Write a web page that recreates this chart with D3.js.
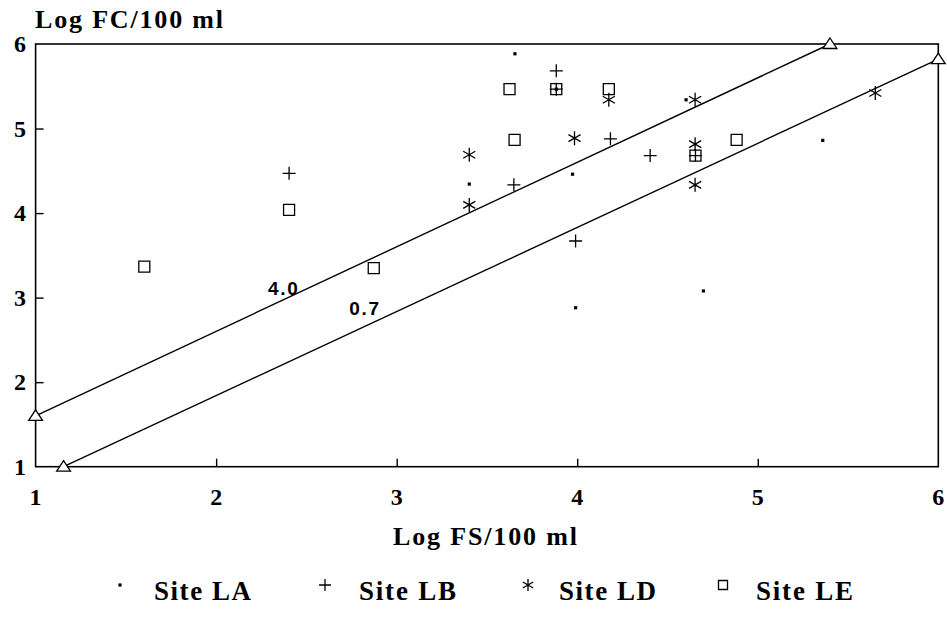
<!DOCTYPE html>
<html><head><meta charset="utf-8">
<script src="https://cdn.jsdelivr.net/npm/d3@7"></script>
<style>body{margin:0;background:#fff}svg{display:block}</style>
</head><body><svg id="c" width="947" height="622"></svg>
<script>
// Data
const xTicks = [1, 2, 3, 4, 5, 6];
const yTicks = [1, 2, 3, 4, 5, 6];
const laX = [3.655, 3.402, 3.974, 3.991, 4.603, 5.36, 4.699, 3.884];
const laY = [5.884, 4.343, 4.46, 2.88, 5.34, 4.86, 3.079, 5.466];
const lbX = [2.404, 3.884, 4.184, 3.649, 4.404, 3.991, 3.884, 4.655];
const lbY = [4.47, 5.683, 4.878, 4.334, 4.68, 3.67, 5.466, 4.68];
const ldX = [4.175, 3.985, 3.402, 3.402, 4.653, 4.653, 4.653, 5.651];
const ldY = [5.34, 4.886, 4.69, 4.097, 5.34, 4.815, 4.334, 5.42];
const leX = [1.602, 2.404, 2.873, 3.625, 3.884, 4.175, 3.653, 4.655, 4.883];
const leY = [3.367, 4.038, 3.348, 5.466, 5.466, 5.466, 4.866, 4.68, 4.866];
const ratioLabels = ["4.0", "0.7"];
const ratioLineX = [[1.0, 5.4], [1.155, 6.0]];
const ratioLineY = [[1.602, 6.0], [1.0, 5.82]];
const ratioLabelX = [2.37, 2.82];
const ratioLabelY = [3.03, 2.795];
const siteNames = ["Site LA", "Site LB", "Site LD", "Site LE"];
const siteSymbols = ["dot", "plus", "star", "square"];

const svg = d3.select("#c");
const x = d3.scaleLinear().domain([1, 6]).range([35.6, 938.3]);
const y = d3.scaleLinear().domain([1, 6]).range([466.7, 44]);
const serif = "'Liberation Serif','Times New Roman',serif";

function symPath(type, s) {
  const p = d3.path();
  if (type === "dot") { p.rect(-1.6, -1.6, 3.2, 3.2); }
  else if (type === "plus") { p.moveTo(-s, 0); p.lineTo(s, 0); p.moveTo(0, -s); p.lineTo(0, s); }
  else if (type === "star") {
    p.moveTo(0, -s); p.lineTo(0, s);
    const a = s * Math.cos(Math.PI / 6), b = s * Math.sin(Math.PI / 6);
    p.moveTo(-a, -b); p.lineTo(a, b); p.moveTo(-a, b); p.lineTo(a, -b);
  }
  else if (type === "square") { p.rect(-s, -s, 2 * s, 2 * s); }
  else if (type === "tri") { p.moveTo(0, -s); p.lineTo(s * 1.15, s * 0.75); p.lineTo(-s * 1.15, s * 0.75); p.closePath(); }
  return p.toString();
}
function drawSym(g, type, px, py, s) {
  const el = g.append("path").attr("d", symPath(type, s))
    .attr("transform", `translate(${px},${py})`);
  if (type === "dot") el.attr("fill", "#000").attr("stroke", "none");
  else el.attr("fill", type === "tri" ? "#fff" : "none").attr("stroke", "#000").attr("stroke-width", 1.3);
  return el;
}

// frame
const fr = svg.append("g").attr("stroke", "#000").attr("fill", "none");
fr.append("rect").attr("x", x(1)).attr("y", y(6)).attr("width", x(6) - x(1)).attr("height", y(1) - y(6)).attr("stroke-width", 1.6);

// axes with inward ticks
const xAxis = d3.axisBottom(x).tickValues(xTicks.slice(1, -1)).tickSize(-8).tickFormat("");
const gx = svg.append("g").attr("transform", `translate(0,${y(1)})`).call(xAxis);
gx.select(".domain").remove();
gx.selectAll("line").attr("stroke", "#000").attr("stroke-width", 1.4);
const yAxis = d3.axisLeft(y).tickValues(yTicks.slice(1, -1)).tickSize(-8).tickFormat("");
const gy = svg.append("g").attr("transform", `translate(${x(1)},0)`).call(yAxis);
gy.select(".domain").remove();
gy.selectAll("line").attr("stroke", "#000").attr("stroke-width", 1.4);

// tick labels
svg.append("g").selectAll("text").data(xTicks).join("text")
  .attr("x", d => x(d)).attr("y", 505).attr("text-anchor", "middle")
  .attr("font-family", serif).attr("font-weight", "bold").attr("font-size", 24)
  .text(d => d);
svg.append("g").selectAll("text").data(yTicks).join("text")
  .attr("x", 26).attr("y", d => y(d) + 8).attr("text-anchor", "end")
  .attr("font-family", serif).attr("font-weight", "bold").attr("font-size", 24)
  .text(d => d);

// titles
svg.append("text").attr("x", 35).attr("y", 28).attr("font-family", serif).attr("font-weight", "bold")
  .attr("font-size", 26).attr("textLength", 188).attr("lengthAdjust", "spacing").text("Log FC/100 ml");
svg.append("text").attr("x", 393).attr("y", 545).attr("font-family", serif).attr("font-weight", "bold")
  .attr("font-size", 26).attr("textLength", 184).attr("lengthAdjust", "spacing").text("Log FS/100 ml");

// ratio lines
const lg = svg.append("g");
ratioLabels.forEach((lab, i) => {
  lg.append("line").attr("x1", x(ratioLineX[i][0])).attr("y1", y(ratioLineY[i][0]))
    .attr("x2", x(ratioLineX[i][1])).attr("y2", y(ratioLineY[i][1]))
    .attr("stroke", "#000").attr("stroke-width", 1.4);
  drawSym(lg, "tri", x(ratioLineX[i][0]), y(ratioLineY[i][0]), 6);
  drawSym(lg, "tri", x(ratioLineX[i][1]), y(ratioLineY[i][1]), 6);
  lg.append("text").attr("x", x(ratioLabelX[i])).attr("y", y(ratioLabelY[i]))
    .attr("text-anchor", "middle").attr("font-family", "'Liberation Sans',Arial,sans-serif")
    .attr("font-weight", "bold").attr("font-size", 19).attr("textLength", 30).attr("lengthAdjust", "spacing").text(lab);
});

// points
const pg = svg.append("g");
const sets = [[laX, laY, "dot", 0], [lbX, lbY, "plus", 6.5], [ldX, ldY, "star", 7], [leX, leY, "square", 5.5]];
sets.forEach(([xs, ys, t, s]) => xs.forEach((v, i) => drawSym(pg, t, x(v), y(ys[i]), s)));

// legend
const legSymX = [120, 325, 528, 723];
const legTextX = [154, 359, 559, 756];
const legSizes = [0, 6, 6, 4.5];
const leg = svg.append("g");
siteNames.forEach((n, i) => {
  drawSym(leg, siteSymbols[i], legSymX[i], 585, legSizes[i]);
  leg.append("text").attr("x", legTextX[i]).attr("y", 600).attr("font-family", serif)
    .attr("font-weight", "bold").attr("font-size", 27).attr("textLength", 97).attr("lengthAdjust", "spacing").text(n);
});
</script></body></html>
